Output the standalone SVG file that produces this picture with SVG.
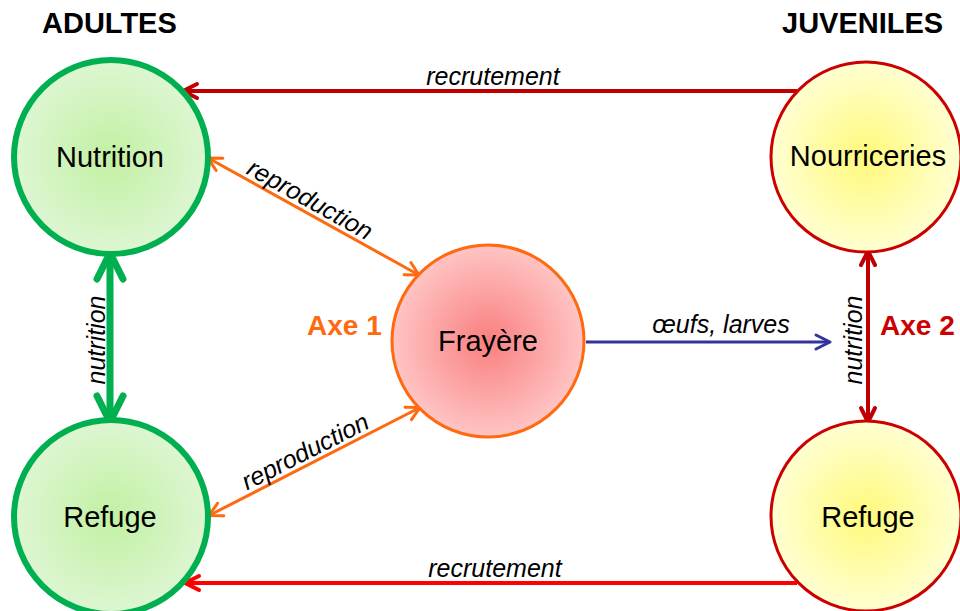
<svg xmlns="http://www.w3.org/2000/svg" width="960" height="611" viewBox="0 0 960 611">
<defs>
<radialGradient id="gGreen" cx="50%" cy="50%" r="50%">
<stop offset="0" stop-color="#C2F0A2"/>
<stop offset="1" stop-color="#DDF6D2"/>
</radialGradient>
<radialGradient id="gRed" cx="50%" cy="50%" r="50%">
<stop offset="0" stop-color="#F97F7F"/>
<stop offset="1" stop-color="#FFC4C4"/>
</radialGradient>
<radialGradient id="gYellow" cx="50%" cy="50%" r="50%">
<stop offset="0" stop-color="#FFF97A"/>
<stop offset="1" stop-color="#FFFFD2"/>
</radialGradient>
<marker id="mGreen" viewBox="-30 -18 36 36" refX="0" refY="0" markerWidth="36" markerHeight="36" markerUnits="userSpaceOnUse" orient="auto-start-reverse">
<path d="M-23,-13 L3,0 L-23,13" fill="none" stroke="#00B050" stroke-width="7" stroke-linejoin="round" stroke-linecap="round"/>
</marker>
<marker id="mOrange" viewBox="-20 -12 24 24" refX="0" refY="0" markerWidth="24" markerHeight="24" markerUnits="userSpaceOnUse" orient="auto-start-reverse">
<path d="M-12,-7 L1,0 L-12,7" fill="none" stroke="#FF6A10" stroke-width="3" stroke-linejoin="round" stroke-linecap="round"/>
</marker>
<marker id="mDark" viewBox="-20 -12 24 24" refX="0" refY="0" markerWidth="24" markerHeight="24" markerUnits="userSpaceOnUse" orient="auto-start-reverse">
<path d="M-13,-7 L1,0 L-13,7" fill="none" stroke="#C00000" stroke-width="4" stroke-linejoin="round" stroke-linecap="round"/>
</marker>
<marker id="mBright" viewBox="-20 -12 24 24" refX="0" refY="0" markerWidth="24" markerHeight="24" markerUnits="userSpaceOnUse" orient="auto">
<path d="M-13,-7 L1,0 L-13,7" fill="none" stroke="#FF0000" stroke-width="4" stroke-linejoin="round" stroke-linecap="round"/>
</marker>
<marker id="mBlue" viewBox="-20 -12 24 24" refX="0" refY="0" markerWidth="24" markerHeight="24" markerUnits="userSpaceOnUse" orient="auto">
<path d="M-13,-7 L1,0 L-13,7" fill="none" stroke="#333399" stroke-width="3" stroke-linejoin="round" stroke-linecap="round"/>
</marker>
</defs>
<style>
text { font-family: "Liberation Sans", Arial, sans-serif; fill: #000; }
.node { font-size: 29px; text-anchor: middle; }
.head { font-size: 29px; font-weight: bold; }
.axe { font-size: 28px; font-weight: bold; }
.lbl { font-size: 25px; font-style: italic; text-anchor: middle; }
.adult { fill: url(#gGreen); stroke: #00B050; stroke-width: 6; }
.spawn { fill: url(#gRed); stroke: #FF6A10; stroke-width: 3; }
.juv { fill: url(#gYellow); stroke: #CC0000; stroke-width: 3; }
.conn { fill: none; }
</style>
<rect width="960" height="611" fill="#FFFFFF"/>

<text class="head" x="42" y="33">ADULTES</text>
<text class="head" x="782" y="33">JUVENILES</text>
<text class="axe" x="307" y="335" style="fill:#FF6A10">Axe 1</text>
<text class="axe" x="880" y="335" style="fill:#CC0000">Axe 2</text>

<g id="connectors">
<line class="conn" x1="797" y1="91" x2="184" y2="91" stroke="#C00000" stroke-width="4" marker-end="url(#mDark)"/>
<line class="conn" x1="797" y1="583" x2="186" y2="583" stroke="#FF0000" stroke-width="4" marker-end="url(#mBright)"/>
<line class="conn" x1="110" y1="256" x2="110" y2="419" stroke="#00B050" stroke-width="7" marker-start="url(#mGreen)" marker-end="url(#mGreen)"/>
<line class="conn" x1="209" y1="158.5" x2="418" y2="274.5" stroke="#FF6A10" stroke-width="3" marker-start="url(#mOrange)" marker-end="url(#mOrange)"/>
<line class="conn" x1="210" y1="515" x2="419" y2="408" stroke="#FF6A10" stroke-width="3" marker-start="url(#mOrange)" marker-end="url(#mOrange)"/>
<line class="conn" x1="586" y1="342" x2="829" y2="342" stroke="#333399" stroke-width="3" marker-end="url(#mBlue)"/>
<line class="conn" x1="868" y1="252" x2="868" y2="421" stroke="#C00000" stroke-width="4" marker-start="url(#mDark)" marker-end="url(#mDark)"/>
<text class="lbl" x="493" y="85">recrutement</text>
<text class="lbl" x="495" y="577">recrutement</text>
<text class="lbl" x="721" y="333">œufs, larves</text>
<text class="lbl" transform="translate(105,340) rotate(-90)">nutrition</text>
<text class="lbl" transform="translate(862,340) rotate(-90)">nutrition</text>
<text class="lbl" transform="translate(306,207) rotate(29)">reproduction</text>
<text class="lbl" transform="translate(309,459) rotate(-27)">reproduction</text>
</g>

<g id="adult-nutrition">
<circle class="adult" cx="111" cy="157" r="97"/>
<text class="node" x="110" y="167">Nutrition</text>
</g>
<g id="adult-refuge">
<circle class="adult" cx="111" cy="517" r="97"/>
<text class="node" x="110" y="527">Refuge</text>
</g>
<g id="frayere">
<circle class="spawn" cx="488" cy="341" r="96"/>
<text class="node" x="488" y="351">Frayère</text>
</g>
<g id="juv-nourriceries">
<circle class="juv" cx="866" cy="157" r="95"/>
<text class="node" x="868" y="166">Nourriceries</text>
</g>
<g id="juv-refuge">
<circle class="juv" cx="866" cy="516" r="95"/>
<text class="node" x="868" y="527">Refuge</text>
</g>
</svg>
